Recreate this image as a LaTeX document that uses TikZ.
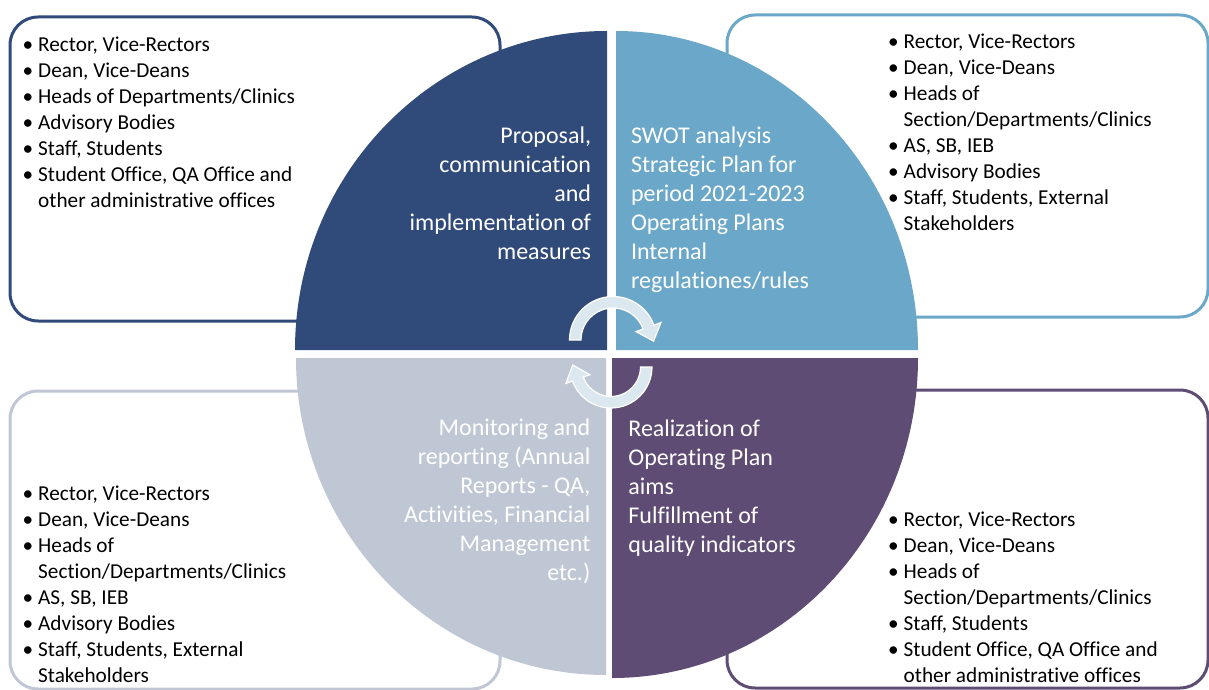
\documentclass[tikz,border=0pt]{standalone}
\usepackage{fontspec}
\setmainfont{Carlito}[Ligatures=NoCommon]
\usetikzlibrary{calc}
\definecolor{cTL}{HTML}{304A7A}
\definecolor{cTR}{HTML}{6AA7C8}
\definecolor{cBL}{HTML}{BFC7D5}
\definecolor{cBR}{HTML}{5E4C74}
\definecolor{cArrow}{HTML}{DCE8F0}
\newcommand{\bl}{\makebox[15.5pt][l]{•}}
\newcommand{\ind}{\hspace*{15.5pt}}
\begin{document}
\begin{tikzpicture}[x=1pt,y=1pt]
\tikzset{
  panel/.style={fill=white, line width=3pt, rounded corners=28pt},
  lst/.style={anchor=base west, inner sep=0pt, font=\fontsize{21.25}{26}\selectfont},
  qtext/.style={inner sep=0pt, text=white, font=\fontsize{24}{29}\selectfont},
  flow/.style={fill=cArrow, draw=white, line width=1.2pt, line join=miter}
}
\useasboundingbox (0,0) rectangle (1209,689);
% side panels
\draw[panel, draw=cTL] (10,368) rectangle (500,672);
\draw[panel, draw=cTR] (727,372) rectangle (1208,674);
\draw[panel, draw=cBL] (10,0) rectangle (500,298);
\draw[panel, draw=cBR] (727,1) rectangle (1208,299);
% quadrants
\fill[cTL] (607,339) -- (295,339) arc[start angle=180, end angle=90, x radius=312pt, y radius=319pt] -- cycle;
\fill[cTR] (616,339) -- (616,658) arc[start angle=90, end angle=0, x radius=302pt, y radius=319pt] -- cycle;
\fill[cBL] (606,331) -- (296,331) arc[start angle=180, end angle=270, x radius=310pt, y radius=317pt] -- cycle;
\fill[cBR] (612,331) -- (918,331) arc[start angle=0, end angle=-90, x radius=306pt, y radius=320pt] -- cycle;
% panel lists
\node[lst] (ltl) at (22.5,637.3) {\parbox[t]{320pt}{\bl Rector, Vice-Rectors\\\bl Dean, Vice-Deans\\\bl Heads of Departments/Clinics\\\bl Advisory Bodies\\\bl Staff, Students\\\bl Student Office, QA Office and\\\ind other administrative offices}};
\node[lst] (ltr) at (888,640.7) {\parbox[t]{320pt}{\bl Rector, Vice-Rectors\\\bl Dean, Vice-Deans\\\bl Heads of\\\ind Section/Departments/Clinics\\\bl AS, SB, IEB\\\bl Advisory Bodies\\\bl Staff, Students, External\\\ind Stakeholders}};
\node[lst] (lbl) at (22.5,189) {\parbox[t]{320pt}{\bl Rector, Vice-Rectors\\\bl Dean, Vice-Deans\\\bl Heads of\\\ind Section/Departments/Clinics\\\bl AS, SB, IEB\\\bl Advisory Bodies\\\bl Staff, Students, External\\\ind Stakeholders}};
\node[lst] (lbr) at (888,162.3) {\parbox[t]{320pt}{\bl Rector, Vice-Rectors\\\bl Dean, Vice-Deans\\\bl Heads of\\\ind Section/Departments/Clinics\\\bl Staff, Students\\\bl Student Office, QA Office and\\\ind other administrative offices}};
% quadrant texts
\node[qtext, anchor=base east] (qtl) at (591.3,545.7) {\parbox[t]{220pt}{\raggedleft Proposal,\\communication\\and\\implementation of\\measures}};
\node[qtext, anchor=base west] (qtr) at (630.8,545.7) {\parbox[t]{220pt}{\raggedright SWOT analysis\\Strategic Plan for\\period 2021-2023\\Operating Plans\\Internal\\regulationes/rules}};
\node[qtext, anchor=base east] (qbl) at (590.5,254) {\parbox[t]{220pt}{\raggedleft Monitoring and\\reporting (Annual\\Reports - QA,\\Activities, Financial\\Management\\etc.)}};
\node[qtext, anchor=base west] (qbr) at (628.2,253) {\parbox[t]{220pt}{\raggedright Realization of\\Operating Plan\\aims\\Fulfillment of\\quality indicators}};
% cycle arrows
\coordinate (ta) at (613,349);
\coordinate (ba) at (611,322);
\path[flow] ($(ta)+(180:43.5pt)$) arc[start angle=180, end angle=20, radius=43.5pt]
  -- ($(ta)+(20:51pt)$) -- ($(ta)+(20:37.75pt)+(-70:15pt)$) -- ($(ta)+(20:24.5pt)$)
  -- ($(ta)+(20:32pt)$) arc[start angle=20, end angle=180, radius=32pt] -- cycle;
\path[flow] ($(ba)+(0:41pt)$) arc[start angle=0, end angle=-160, radius=41pt]
  -- ($(ba)+(-160:48pt)$) -- ($(ba)+(-160:35.25pt)+(110:15pt)$) -- ($(ba)+(-160:22.5pt)$)
  -- ($(ba)+(-160:29.5pt)$) arc[start angle=-160, end angle=0, radius=29.5pt] -- cycle;
\end{tikzpicture}
\end{document}
